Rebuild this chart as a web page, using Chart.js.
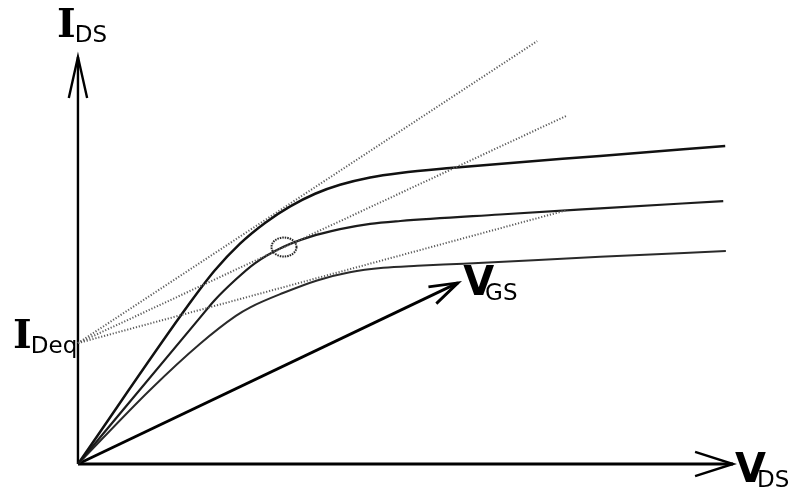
<!DOCTYPE html>
<html>
<head>
<meta charset="utf-8">
<script src="https://cdn.jsdelivr.net/npm/chart.js@4/dist/chart.umd.min.js"></script>
<style>
  body { margin: 0; background: #fff; }
  canvas { display: block; }
</style>
</head>
<body>
<canvas id="fetChart" width="794" height="488"></canvas>
<script>
// curve samples (V_DS, I_DS), arbitrary units, axes run 0..10
var topX = [0, 1.71, 2.09, 2.47, 2.86, 3.24, 3.62, 4.00, 4.46, 4.92, 5.68, 7.97, 9.88];
var topY = [0, 3.96, 4.76, 5.41, 5.93, 6.33, 6.64, 6.86, 7.04, 7.15, 7.27, 7.57, 7.81];
var midX = [0, 1.86, 2.09, 2.40, 2.70, 3.13, 3.54, 4.00, 4.46, 4.92, 6.44, 7.97, 9.85];
var midY = [0, 3.59, 4.03, 4.52, 4.93, 5.33, 5.58, 5.77, 5.90, 5.97, 6.13, 6.28, 6.46];
var botX = [0, 1.10, 1.86, 2.41, 2.63, 3.13, 3.65, 4.15, 4.66, 5.18, 5.88, 7.97, 9.89];
var botY = [0, 1.82, 2.95, 3.64, 3.85, 4.20, 4.51, 4.71, 4.82, 4.87, 4.92, 5.09, 5.23];

// tangents from I_Deq on the current axis
var iDeq = 2.97;
var tangentEndX = [7.01, 7.45, 7.47];
var tangentEndY = [10.39, 8.55, 6.24];

// operating point and V_GS direction arrow
var qPoint = [3.145, 5.33];
var vgsTip = [5.80, 4.45];
var vgsWings = [[5.35, 4.35], [5.47, 3.94]];

// axes
var axisEnd = 10;
var xWings = [[9.42, 0.30], [9.42, -0.30]];
var yWings = [[-0.14, 8.99], [0.14, 8.99]];

// axis / point labels: [main, subscript, x, y]
var labels = [
  ["I", "DS", -0.32, 10.49],
  ["I", "Deq", -0.99, 2.85],
  ["V", "DS", 10.03, -0.44],
  ["V", "GS", 5.88, 4.15],
];

var black = "#000";
var gray = "#5e5e5e";

function pts(xs, ys) {
  return xs.map((x, i) => ({ x: x, y: ys[i] }));
}

function line(data, color, width, extra) {
  return Object.assign({
    data: data,
    showLine: true,
    borderColor: color,
    borderWidth: width,
    pointRadius: 0,
    fill: false,
  }, extra || {});
}

// ellipse marker for the operating point
function ringMarker() {
  let c = document.createElement("canvas");
  c.width = 30;
  c.height = 24;
  let g = c.getContext("2d");
  g.strokeStyle = "#1e1e1e";
  g.lineWidth = 2;
  g.setLineDash([1.5, 1]);
  g.beginPath();
  g.ellipse(15, 12, 12.5, 9.5, 0, 0, Math.PI * 2);
  g.stroke();
  return c;
}

// subscripted labels
const labelPlugin = {
  id: "subLabels",
  afterDatasetsDraw(chart) {
    const ctx = chart.ctx;
    const xs = chart.scales.x;
    const ys = chart.scales.y;
    ctx.save();
    ctx.fillStyle = black;
    ctx.textBaseline = "alphabetic";
    ctx.textAlign = "left";
    for (let item of labels) {
      let px = xs.getPixelForValue(item[2]);
      let py = ys.getPixelForValue(item[3]);
      let serif = item[0] == "I";
      let mainFont = serif ? "bold 40px 'DejaVu Serif'" : "bold 40px 'DejaVu Sans'";
      ctx.font = mainFont;
      let w = ctx.measureText(item[0]).width;
      let kern = serif ? -1 : -9;
      ctx.font = "23px 'DejaVu Sans'";
      ctx.fillText(item[1], px + w + kern, py + 5);
      ctx.font = mainFont;
      ctx.fillText(item[0], px, py);
    }
    ctx.restore();
  },
};

let datasets = [];

// dotted tangents
for (let i = 0; i < tangentEndX.length; i++) {
  datasets.push(line([{ x: 0, y: iDeq }, { x: tangentEndX[i], y: tangentEndY[i] }], gray, 2, {
    borderDash: [1.2, 1.8],
  }));
}

// output characteristics
const smooth = { cubicInterpolationMode: "monotone" };
datasets.push(line(pts(topX, topY), "#111", 2.5, smooth));
datasets.push(line(pts(midX, midY), "#1c1c1c", 2.2, smooth));
datasets.push(line(pts(botX, botY), "#2a2a2a", 2, smooth));

// axes with open arrow heads
datasets.push(line([{ x: 0, y: 0 }, { x: axisEnd, y: 0 }], black, 2.8));
datasets.push(line([{ x: xWings[0][0], y: xWings[0][1] }, { x: axisEnd, y: 0 }, { x: xWings[1][0], y: xWings[1][1] }], black, 2.4));
datasets.push(line([{ x: 0, y: 0 }, { x: 0, y: axisEnd }], black, 2.4));
datasets.push(line([{ x: yWings[0][0], y: yWings[0][1] }, { x: 0, y: axisEnd }, { x: yWings[1][0], y: yWings[1][1] }], black, 2.4));

// V_GS arrow
datasets.push(line([{ x: 0, y: 0 }, { x: vgsTip[0], y: vgsTip[1] }], black, 2.8));
datasets.push(line([{ x: vgsWings[0][0], y: vgsWings[0][1] }, { x: vgsTip[0], y: vgsTip[1] }, { x: vgsWings[1][0], y: vgsWings[1][1] }], black, 2.8));

// Q point
datasets.push({
  data: [{ x: qPoint[0], y: qPoint[1] }],
  showLine: false,
  pointStyle: ringMarker(),
  pointRadius: 12,
});

new Chart(document.getElementById("fetChart"), {
  type: "scatter",
  data: { datasets: datasets },
  options: {
    responsive: false,
    animation: false,
    devicePixelRatio: 1,
    layout: { padding: 0, autoPadding: false },
    elements: { line: { borderCapStyle: "butt", borderJoinStyle: "miter", tension: 0 } },
    scales: {
      x: { type: "linear", display: false, min: -1.19, max: 10.93 },
      y: { type: "linear", display: false, min: -0.59, max: 11.4 },
    },
    plugins: {
      legend: { display: false },
      tooltip: { enabled: false },
    },
  },
  plugins: [labelPlugin],
});
</script>
</body>
</html>
